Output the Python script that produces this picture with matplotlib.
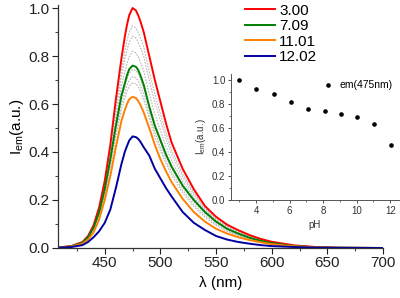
import matplotlib
matplotlib.use("Agg")
import matplotlib.pyplot as plt
from matplotlib.ticker import MultipleLocator

plt.rcParams['font.family'] = ['Liberation Sans', 'DejaVu Sans']

wavelength = [410, 420, 430, 435, 440, 445, 450, 455, 460, 465, 468, 470, 472, 475, 478, 480, 482,
              485, 490, 495, 500, 505, 510, 520, 530, 540, 550, 560, 570, 580, 590, 600, 620, 640,
              660, 700]

ph_300 = [0.003, 0.008, 0.025, 0.050, 0.095, 0.170, 0.280, 0.430, 0.620, 0.790, 0.880, 0.930,
          0.970, 1.000, 0.990, 0.970, 0.945, 0.900, 0.800, 0.700, 0.610, 0.520, 0.440, 0.330,
          0.245, 0.175, 0.130, 0.097, 0.074, 0.054, 0.038, 0.026, 0.011, 0.004, 0.001, 0.000]
ph_709 = [0.003, 0.007, 0.022, 0.045, 0.085, 0.150, 0.245, 0.370, 0.510, 0.635, 0.685, 0.720,
          0.745, 0.760, 0.755, 0.742, 0.720, 0.680, 0.590, 0.510, 0.450, 0.390, 0.340, 0.260,
          0.200, 0.150, 0.110, 0.080, 0.060, 0.043, 0.030, 0.020, 0.008, 0.003, 0.001, 0.000]
ph_1101 = [0.002, 0.006, 0.018, 0.035, 0.065, 0.120, 0.200, 0.300, 0.420, 0.530, 0.575, 0.600,
           0.620, 0.630, 0.625, 0.613, 0.597, 0.565, 0.500, 0.430, 0.370, 0.320, 0.275, 0.205,
           0.150, 0.110, 0.080, 0.060, 0.045, 0.033, 0.024, 0.016, 0.007, 0.003, 0.001, 0.000]
ph_1202 = [0.002, 0.004, 0.012, 0.025, 0.045, 0.070, 0.105, 0.160, 0.250, 0.350, 0.400, 0.425,
           0.448, 0.465, 0.462, 0.455, 0.443, 0.420, 0.385, 0.330, 0.290, 0.250, 0.215, 0.150,
           0.105, 0.075, 0.050, 0.035, 0.025, 0.018, 0.012, 0.008, 0.004, 0.002, 0.001, 0.000]

# intermediate pH spectra (grey dotted)
ph_4 = [0.003, 0.008, 0.024, 0.048, 0.092, 0.164, 0.269, 0.411, 0.586, 0.742, 0.820, 0.865,
        0.898, 0.925, 0.917, 0.898, 0.876, 0.838, 0.734, 0.641, 0.560, 0.479, 0.409, 0.308,
        0.231, 0.167, 0.124, 0.092, 0.070, 0.051, 0.036, 0.024, 0.010, 0.004, 0.001, 0.000]
ph_5 = [0.003, 0.008, 0.0235, 0.048, 0.090, 0.160, 0.263, 0.401, 0.566, 0.714, 0.785, 0.825,
        0.857, 0.883, 0.875, 0.858, 0.836, 0.798, 0.698, 0.607, 0.532, 0.457, 0.391, 0.296,
        0.223, 0.163, 0.120, 0.089, 0.067, 0.049, 0.034, 0.023, 0.010, 0.004, 0.001, 0.000]
ph_6 = [0.003, 0.007, 0.023, 0.046, 0.0875, 0.155, 0.254, 0.385, 0.538, 0.674, 0.732, 0.768,
        0.797, 0.820, 0.813, 0.797, 0.776, 0.738, 0.643, 0.558, 0.490, 0.423, 0.365, 0.278,
        0.211, 0.156, 0.115, 0.084, 0.064, 0.046, 0.032, 0.022, 0.009, 0.003, 0.001, 0.000]
ph_8 = [0.003, 0.007, 0.021, 0.044, 0.083, 0.146, 0.239, 0.361, 0.499, 0.622, 0.672, 0.705,
        0.728, 0.744, 0.739, 0.727, 0.706, 0.666, 0.579, 0.500, 0.440, 0.381, 0.332, 0.253,
        0.194, 0.145, 0.106, 0.078, 0.058, 0.042, 0.029, 0.020, 0.008, 0.003, 0.001, 0.000]
ph_9 = [0.003, 0.007, 0.021, 0.041, 0.078, 0.139, 0.229, 0.345, 0.478, 0.598, 0.645, 0.677,
        0.699, 0.714, 0.709, 0.697, 0.677, 0.639, 0.558, 0.482, 0.422, 0.365, 0.317, 0.241,
        0.182, 0.136, 0.099, 0.073, 0.055, 0.039, 0.028, 0.019, 0.008, 0.003, 0.001, 0.000]
ph_10 = [0.002, 0.006, 0.020, 0.040, 0.074, 0.134, 0.220, 0.332, 0.461, 0.578, 0.623, 0.653,
         0.674, 0.689, 0.684, 0.673, 0.654, 0.617, 0.541, 0.466, 0.406, 0.352, 0.305, 0.230,
         0.173, 0.128, 0.094, 0.069, 0.052, 0.038, 0.027, 0.018, 0.007, 0.003, 0.001, 0.000]

legend_labels = ["3.00", "7.09", "11.01", "12.02"]
colors = ["#ff0000", "#008000", "#ff8000", "#0000a0"]

inset_ph = [3.00, 4.00, 5.05, 6.06, 7.09, 8.10, 9.05, 10.00, 11.01, 12.02]
inset_em = [1.000, 0.925, 0.883, 0.820, 0.758, 0.744, 0.714, 0.689, 0.631, 0.461]

fig = plt.figure(figsize=(4.0, 2.98), dpi=100)
ax = fig.add_axes([0.145, 0.1678, 0.8125, 0.8154])

for g in [ph_4, ph_5, ph_6, ph_8, ph_9, ph_10]:
    ax.plot(wavelength, g, color="#b8b8b8", lw=0.8, linestyle=(0, (1.5, 1.2)))

for series, c, lab in zip([ph_300, ph_709, ph_1101, ph_1202], colors, legend_labels):
    ax.plot(wavelength, series, color=c, lw=1.4, label=lab, solid_joinstyle='round')

ax.set_xlim(408, 700)
ax.set_ylim(0, 1.0125)
ax.set_xticks([450, 500, 550, 600, 650, 700])
ax.xaxis.set_minor_locator(MultipleLocator(25))
ax.set_yticks([0.0, 0.2, 0.4, 0.6, 0.8, 1.0])
ax.set_yticklabels(["0.0", "0.2", "0.4", "0.6", "0.8", "1.0"])
ax.yaxis.set_minor_locator(MultipleLocator(0.1))
ax.tick_params(which='major', direction='out', length=4, width=0.8, labelsize=11, colors='#222222', pad=2)
ax.tick_params(which='minor', direction='out', length=2.5, width=0.8, colors='#444444')
for s in ['top', 'right']:
    ax.spines[s].set_visible(False)
for s in ['left', 'bottom']:
    ax.spines[s].set_color('#333333')
    ax.spines[s].set_linewidth(0.9)
ax.set_xlabel("λ (nm)", fontsize=11, labelpad=4)
ax.set_ylabel("I$_{\\mathregular{em}}$(a.u.)", fontsize=11, labelpad=2)

leg = ax.legend(loc='upper left', bbox_to_anchor=(0.575, 1.005), frameon=False, fontsize=11,
                handlelength=2.0, handletextpad=0.25, labelspacing=0.1, borderaxespad=0,
                borderpad=0)

ins = fig.add_axes([0.5775, 0.3289, 0.419, 0.4228])
ins.plot(inset_ph, inset_em, linestyle='none', marker='o', markersize=2.3, color='black',
         label='em(475nm)')
ins.set_xlim(2.5, 12.5)
ins.set_ylim(0, 1.05)
ins.set_xticks([4, 6, 8, 10, 12])
ins.xaxis.set_minor_locator(MultipleLocator(1))
ins.set_yticks([0.0, 0.2, 0.4, 0.6, 0.8, 1.0])
ins.set_yticklabels(["0.0", "0.2", "0.4", "0.6", "0.8", "1.0"])
ins.yaxis.set_minor_locator(MultipleLocator(0.1))
ins.tick_params(which='major', direction='out', length=2.5, width=0.6, labelsize=7, colors='#333333', pad=1.5)
ins.tick_params(which='minor', direction='out', length=1.5, width=0.6, colors='#555555')
for s in ['top', 'right']:
    ins.spines[s].set_visible(False)
for s in ['left', 'bottom']:
    ins.spines[s].set_color('#555555')
    ins.spines[s].set_linewidth(0.7)
ins.patch.set_alpha(0)
ins.set_xlabel("pH", fontsize=7, labelpad=3, color='#333333')
ins.set_ylabel("I$_{\\mathregular{em}}$(a.u.)", fontsize=7, labelpad=3, color='#333333')
ins.legend(loc='upper right', frameon=False, fontsize=7.5, handlelength=1.0, handletextpad=0.6,
           borderaxespad=0.2, bbox_to_anchor=(1.0, 1.0))

fig.savefig("out.png", dpi=100)
